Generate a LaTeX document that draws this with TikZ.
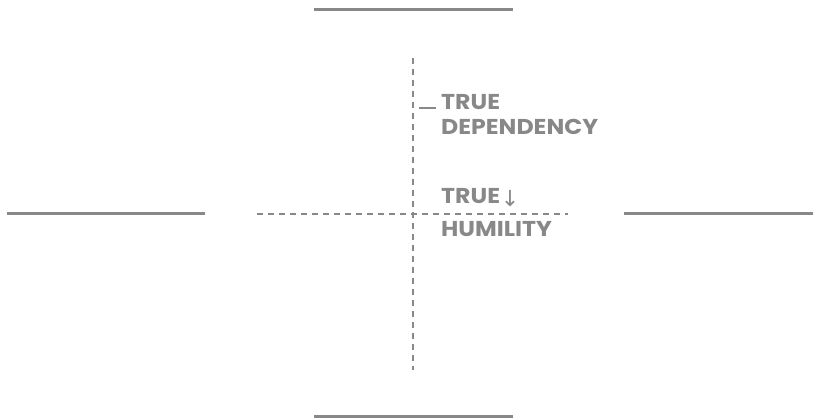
\documentclass[tikz,border=0pt]{standalone}
\usepackage{fontspec}
\setmainfont{Poppins}
\newfontfamily\labelfont{Poppins}[FakeStretch=1.1]
\newfontfamily\arrowfont{DejaVu Sans}
\definecolor{axisgray}{HTML}{888888}
\begin{document}
\begin{tikzpicture}[x=1pt, y=-1pt]
\tikzset{bar/.style={draw=axisgray, line width=3pt},
  axis/.style={draw=axisgray, line width=2pt, dash pattern=on 6pt off 5pt},
  word/.style={text=axisgray, font=\labelfont\fontsize{21.5}{21.5}\selectfont\bfseries, inner sep=0pt, anchor=base west}}
\useasboundingbox (0,0) rectangle (813,419);
% frame bars
\coordinate (T1) at (314,9.5); \coordinate (T2) at (513,9.5);
\coordinate (B1) at (314,416.5); \coordinate (B2) at (513,416.5);
\coordinate (L1) at (7,214); \coordinate (L2) at (205,214);
\coordinate (R1) at (624,214); \coordinate (R2) at (813,214);
\path [bar] (T1) edge (T2);
\path [bar] (B1) edge (B2);
\path [bar] (L1) edge (L2);
\path [bar] (R1) edge (R2);
% dashed axes
\coordinate (V1) at (413,58); \coordinate (V2) at (413,370);
\coordinate (H1) at (257,214); \coordinate (H2) at (568,214);
\path [axis] (V1) edge (V2);
\path [axis] (H1) edge (H2);
% labels
\node[word] (true1) at (441,110) {TRUE};
\node[word] (dep) at (441,135) {DEPENDENCY};
\node[word] (true2) at (441,204) {TRUE};
\node[text=axisgray, font=\arrowfont\fontsize{22}{22}\selectfont, inner sep=0pt, anchor=base] (arr) at (510,207) {↓};
\node[word] (hum) at (441,237) {HUMILITY};
\coordinate (tick) at (419,108);
\path [draw=axisgray, line width=2pt] (tick) edge ([xshift=-5pt, yshift=2pt]true1.base west);
\end{tikzpicture}
\end{document}
